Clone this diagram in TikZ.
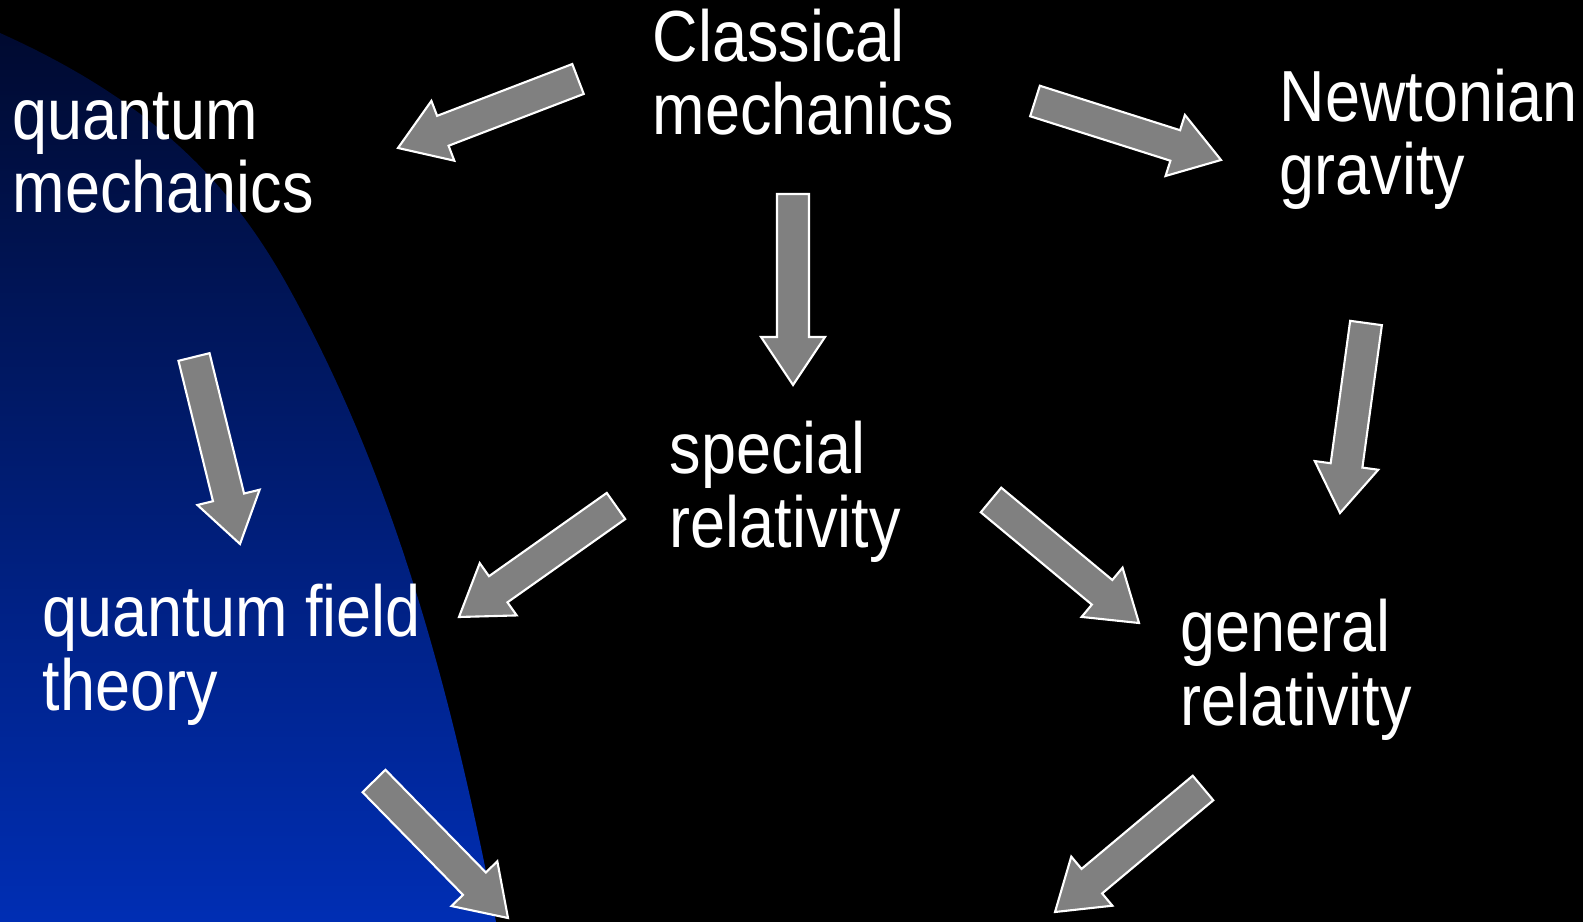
\documentclass[tikz,border=0pt]{standalone}
\usepackage{fontspec}
\setmainfont{Liberation Sans}
\usetikzlibrary{calc}

\definecolor{arrowgray}{RGB}{128,128,128}
\definecolor{navytop}{RGB}{0,10,48}
\definecolor{bluebottom}{RGB}{0,46,180}

% block arrow from tail centre #1 to tip #2
\newcommand{\fatarrow}[2]{%
  \coordinate (neck) at ($(#2)!0.48cm!(#1)$);
  \filldraw[blockarrow] ($(#1)!0.16cm!90:(#2)$) -- ($(neck)!0.16cm!90:(#2)$)
    -- ($(neck)!0.32cm!90:(#2)$) -- (#2) -- ($(neck)!0.32cm!-90:(#2)$)
    -- ($(neck)!0.16cm!-90:(#2)$) -- ($(#1)!0.16cm!-90:(#2)$) -- cycle;
}

\begin{document}
\begin{tikzpicture}[
  x=0.01cm, y=-0.01cm,
  label/.style={text=white, font=\fontsize{17.9pt}{18.1pt}\selectfont, align=left,
    anchor=base west, inner sep=0pt, yscale=1.15, transform shape},
  blockarrow/.style={fill=arrowgray, draw=white, line width=0.6pt, line join=miter},
]
  \useasboundingbox (0,0) rectangle (1583,922);
  \fill[black] (0,0) rectangle (1583,922);
  \shade[top color=navytop, bottom color=bluebottom]
    (0,33) .. controls (160,105) and (235,190) .. (290,290)
    .. controls (389,470) and (448,672) .. (496,922) -- (0,922) -- cycle;

  % anchors sit on the baseline of the last line
  \node[label] (classical) at (652,135) {Classical\\mechanics};
  \node[label] (qm) at (12,213) {quantum\\mechanics};
  \node[label] (newton) at (1279,195) {Newtonian\\gravity};
  \node[label] (sr) at (669,547) {special\\relativity};
  \node[label] (qft) at (42,710) {quantum field\\theory};
  \node[label] (gr) at (1180,725) {general\\relativity};

  % arrow ends
  \coordinate (cm-qm-a) at (578,79);   \coordinate (cm-qm-b) at (398,148);
  \coordinate (cm-sr-a) at (793,194);  \coordinate (cm-sr-b) at (793,385);
  \coordinate (cm-ng-a) at (1035,101); \coordinate (cm-ng-b) at (1221,160);
  \coordinate (ng-gr-a) at (1366,323); \coordinate (ng-gr-b) at (1340,513);
  \coordinate (qm-qft-a) at (194,357); \coordinate (qm-qft-b) at (240,544);
  \coordinate (sr-qft-a) at (616,506); \coordinate (sr-qft-b) at (459,617);
  \coordinate (sr-gr-a) at (991,500);  \coordinate (sr-gr-b) at (1139,623);
  \coordinate (qft-out-a) at (374,781); \coordinate (qft-out-b) at (508,918);
  \coordinate (gr-out-a) at (1203,788); \coordinate (gr-out-b) at (1055,912);

  \foreach \a/\b in {cm-qm-a/cm-qm-b, cm-sr-a/cm-sr-b, cm-ng-a/cm-ng-b, ng-gr-a/ng-gr-b,
      qm-qft-a/qm-qft-b, sr-qft-a/sr-qft-b, sr-gr-a/sr-gr-b, qft-out-a/qft-out-b, gr-out-a/gr-out-b}
    \fatarrow{\a}{\b};
\end{tikzpicture}
\end{document}
